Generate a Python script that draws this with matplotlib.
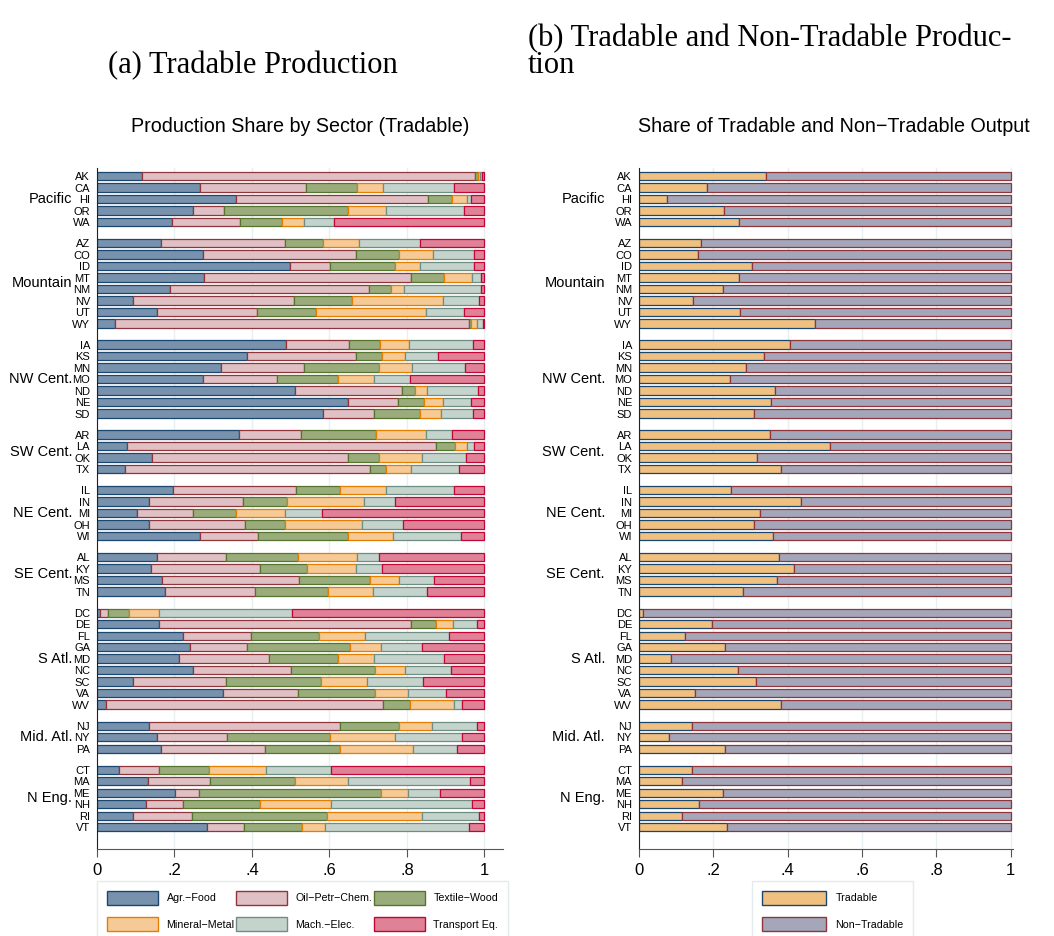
import matplotlib.pyplot as plt
import numpy as np
from matplotlib.patches import Patch
from matplotlib.transforms import blended_transform_factory

plt.rcParams['font.family'] = ['Liberation Sans', 'DejaVu Sans']

regions = ['Pacific', 'Mountain', 'NW Cent.', 'SW Cent.', 'NE Cent.',
           'SE Cent.', 'S Atl.', 'Mid. Atl.', 'N Eng.']
state_groups = [
    ['AK', 'CA', 'HI', 'OR', 'WA'],
    ['AZ', 'CO', 'ID', 'MT', 'NM', 'NV', 'UT', 'WY'],
    ['IA', 'KS', 'MN', 'MO', 'ND', 'NE', 'SD'],
    ['AR', 'LA', 'OK', 'TX'],
    ['IL', 'IN', 'MI', 'OH', 'WI'],
    ['AL', 'KY', 'MS', 'TN'],
    ['DC', 'DE', 'FL', 'GA', 'MD', 'NC', 'SC', 'VA', 'WV'],
    ['NJ', 'NY', 'PA'],
    ['CT', 'MA', 'ME', 'NH', 'RI', 'VT'],
]

# sector shares, states in the order above
agr_food = [.116, .265, .359, .247, .194,
            .165, .274, .498, .276, .188, .092, .154, .046,
            .488, .387, .319, .273, .511, .647, .584,
            .366, .077, .141, .072,
            .196, .134, .103, .134, .267,
            .154, .139, .169, .176,
            .008, .159, .223, .240, .211, .247, .093, .325, .022,
            .134, .155, .165,
            .057, .131, .201, .127, .093, .283]
oil_chem = [.860, .275, .495, .081, .176,
            .320, .395, .103, .535, .515, .417, .260, .913,
            .163, .282, .216, .191, .277, .131, .131,
            .161, .797, .507, .633,
            .318, .244, .144, .249, .148,
            .178, .282, .353, .232,
            .020, .652, .175, .146, .234, .254, .240, .195, .716,
            .492, .180, .269,
            .102, .160, .062, .095, .151, .096]
textile_wood = [.007, .132, .063, .320, .107,
                .099, .111, .169, .084, .055, .150, .151, .007,
                .080, .067, .193, .157, .032, .067, .119,
                .192, .051, .080, .042,
                .112, .113, .111, .103, .233,
                .187, .120, .182, .187,
                .055, .064, .175, .267, .177, .217, .245, .198, .071,
                .154, .266, .192,
                .131, .219, .471, .199, .349, .150]
mineral_metal = [.006, .067, .039, .099, .057,
                 .093, .087, .065, .072, .035, .234, .285, .015,
                 .075, .058, .084, .093, .031, .048, .054,
                 .131, .030, .112, .063,
                 .121, .198, .127, .197, .116,
                 .153, .127, .076, .118,
                 .076, .045, .119, .081, .092, .078, .118, .084, .113,
                 .085, .167, .190,
                 .145, .139, .068, .182, .245, .060]
mach_elec = [.006, .183, .010, .201, .078,
             .157, .107, .137, .024, .198, .093, .097, .016,
             .164, .086, .139, .095, .133, .073, .083,
             .066, .017, .112, .124,
             .175, .080, .097, .108, .176,
             .056, .068, .089, .138,
             .344, .060, .217, .106, .181, .119, .145, .098, .019,
             .115, .173, .112,
             .170, .315, .084, .364, .148, .370]
transport_eq = [.005, .078, .034, .052, .388,
                .166, .026, .028, .009, .009, .014, .053, .003,
                .030, .120, .049, .191, .016, .034, .029,
                .084, .028, .048, .066,
                .078, .231, .418, .209, .060,
                .272, .264, .131, .149,
                .497, .020, .091, .160, .105, .085, .159, .100, .059,
                .020, .059, .072,
                .395, .036, .114, .033, .014, .041]

tradable = [.341, .184, .075, .229, .269,
            .166, .159, .305, .268, .227, .144, .272, .474,
            .407, .337, .288, .246, .367, .356, .308,
            .353, .515, .318, .382,
            .248, .436, .326, .308, .361,
            .376, .416, .370, .280,
            .012, .196, .123, .232, .085, .267, .316, .150, .382,
            .142, .082, .232,
            .143, .115, .227, .161, .117, .236]
non_tradable = [.659, .816, .925, .771, .731,
                .834, .841, .695, .732, .773, .856, .728, .526,
                .593, .663, .712, .754, .633, .644, .692,
                .647, .485, .682, .618,
                .752, .564, .674, .692, .639,
                .624, .584, .630, .720,
                .988, .804, .877, .768, .915, .733, .684, .850, .618,
                .858, .918, .768,
                .857, .885, .773, .839, .883, .764]

sector_names = ['Agr.\u2212Food', 'Oil\u2212Petr\u2212Chem.', 'Textile\u2212Wood',
                'Mineral\u2212Metal', 'Mach.\u2212Elec.', 'Transport Eq.']
sector_fill = ['#7892ad', '#dfc0c4', '#9aac7b', '#f5ca96', '#c5d3cd', '#df8197']
sector_edge = ['#1a476f', '#90353b', '#55752f', '#e37e00', '#6e8e84', '#c10534']
trade_names = ['Tradable', 'Non\u2212Tradable']
trade_fill = ['#f0c080', '#a3a7b9']
trade_edge = ['#1a476f', '#90353b']

# row positions with a gap between census divisions
ypos, ylabels, centers = [], [], []
pos = 0.0
for sts in state_groups:
    ys = []
    for s in sts:
        ypos.append(pos)
        ylabels.append(s)
        ys.append(pos)
        pos += 1
    centers.append(np.mean(ys))
    pos += 0.83
ypos = np.array(ypos)


def draw_panel(ax, series, fills, edges, xmax, region_dx):
    left = np.zeros(len(ypos))
    for vals, fc, ec in zip(series, fills, edges):
        vals = np.array(vals)
        ax.barh(ypos, vals, left=left, height=0.72, color=fc,
                edgecolor=ec, linewidth=0.9, zorder=2)
        left += vals
    ax.set_xlim(0, xmax)
    ax.set_ylim(ypos[-1] + 1.9, -0.7)
    ax.set_xticks([0, .2, .4, .6, .8, 1], ['0', '.2', '.4', '.6', '.8', '1'])
    ax.tick_params(axis='x', labelsize=12, length=6, color='#555555', pad=4)
    ax.set_yticks(ypos, ylabels)
    ax.tick_params(axis='y', labelsize=8, length=0, pad=5)
    ax.set_axisbelow(True)
    ax.xaxis.grid(True, color='#e6eff1', linewidth=1)
    for side in ['top', 'right']:
        ax.spines[side].set_visible(False)
    ax.spines['left'].set_color('#222222')
    ax.spines['bottom'].set_color('#555555')
    trans = blended_transform_factory(ax.transAxes, ax.transData)
    for name, c in zip(regions, centers):
        ax.text(region_dx, c, name, transform=trans, ha='right',
                va='center', fontsize=10.5)


fig = plt.figure(figsize=(10.54, 9.36), dpi=100)
bottom = 1 - 849 / 936
height = (849 - 168) / 936
ax1 = fig.add_axes([97 / 1054, bottom, 406 / 1054, height])
ax2 = fig.add_axes([639 / 1054, bottom, 374 / 1054, height])

draw_panel(ax1, [agr_food, oil_chem, textile_wood, mineral_metal,
                 mach_elec, transport_eq],
           sector_fill, sector_edge, 1.048, -25 / 406)
draw_panel(ax2, [tradable, non_tradable], trade_fill, trade_edge,
           1.006, -34 / 374)

fig.text(300 / 1054, 1 - 127 / 936, 'Production Share by Sector (Tradable)',
         ha='center', va='center', fontsize=14.2)
fig.text(834 / 1054, 1 - 127 / 936,
         'Share of Tradable and Non\u2212Tradable Output',
         ha='center', va='center', fontsize=14.2)

# subfigure captions
serif = ['Liberation Serif', 'DejaVu Serif']
fig.text(108 / 1054, 1 - 73 / 936, '(a) Tradable Production',
         family=serif, fontsize=22, ha='left', va='baseline')
fig.text(528 / 1054, 1 - 46 / 936, '(b) Tradable and Non-Tradable Produc-',
         family=serif, fontsize=22, ha='left', va='baseline')
fig.text(528 / 1054, 1 - 73 / 936, 'tion',
         family=serif, fontsize=22, ha='left', va='baseline')

h1 = [Patch(facecolor=f, edgecolor=e, linewidth=1)
      for f, e in zip(sector_fill, sector_edge)]
order = [0, 3, 1, 4, 2, 5]
leg1 = fig.legend([h1[i] for i in order], [sector_names[i] for i in order],
                  ncol=3, loc='upper left',
                  bbox_to_anchor=(97 / 1054, 1 - 881 / 936),
                  borderaxespad=0, fontsize=7.7, handlelength=4.8,
                  handleheight=1.7, handletextpad=0.8, columnspacing=0.1,
                  labelspacing=1.1, borderpad=0.9, fancybox=False,
                  edgecolor='#dde7e9')
leg1.get_frame().set_linewidth(1)

h2 = [Patch(facecolor=f, edgecolor=e, linewidth=1)
      for f, e in zip(trade_fill, trade_edge)]
leg2 = fig.legend(h2, trade_names, ncol=1, loc='upper left',
                  bbox_to_anchor=(752 / 1054, 1 - 881 / 936),
                  borderaxespad=0, fontsize=7.7, handlelength=6.0,
                  handleheight=1.7, handletextpad=0.9, labelspacing=1.1,
                  borderpad=0.9, fancybox=False, edgecolor='#dde7e9')
leg2.get_frame().set_linewidth(1)

fig.savefig('out.png', dpi=100)
